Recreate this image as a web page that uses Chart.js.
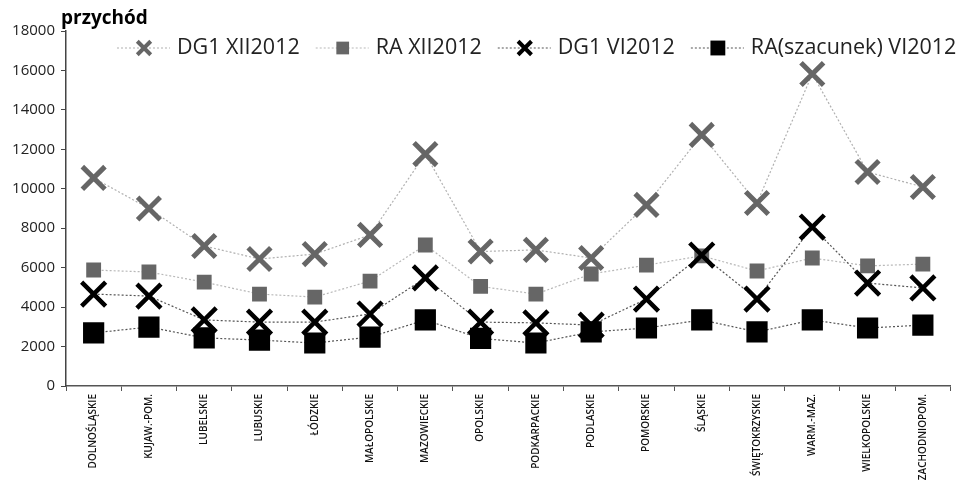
<!DOCTYPE html>
<html>
<head>
<meta charset="utf-8">
<script src="https://cdn.jsdelivr.net/npm/chart.js@4.4.1/dist/chart.umd.min.js"></script>
<style>
  html, body { margin: 0; padding: 0; background: #fff; }
  #wrap { width: 972px; height: 485px; }
</style>
</head>
<body>
<div id="wrap"><canvas id="myChart" width="972" height="485"></canvas></div>
<script>
var regions = [
  "DOLNOŚLĄSKIE", "KUJAW.-POM.", "LUBELSKIE", "LUBUSKIE", "ŁÓDZKIE",
  "MAŁOPOLSKIE", "MAZOWIECKIE", "OPOLSKIE", "PODKARPACKIE", "PODLASKIE",
  "POMORSKIE", "ŚLĄSKIE", "ŚWIĘTOKRZYSKIE", "WARM.-MAZ.", "WIELKOPOLSKIE",
  "ZACHODNIOPOM."
];

var dg1Dec = [10550, 9000, 7100, 6440, 6690, 7660, 11760, 6820, 6900, 6490, 9180, 12730, 9280, 15820, 10850, 10090];
var raDec = [5880, 5780, 5270, 4660, 4510, 5320, 7150, 5050, 4660, 5680, 6130, 6600, 5830, 6490, 6090, 6180];
var dg1Jun = [4660, 4560, 3350, 3240, 3240, 3650, 5480, 3240, 3200, 3090, 4410, 6640, 4410, 8060, 5220, 4970];
var raJun = [2690, 2990, 2440, 2330, 2180, 2480, 3350, 2410, 2180, 2740, 2940, 3350, 2740, 3350, 2940, 3090];

var yTicks = [0, 2000, 4000, 6000, 8000, 10000, 12000, 14000, 16000, 18000];

var GREY = "#666666";
var BLACK = "#000000";

var series = [
  { label: "DG1 XII2012", data: dg1Dec, style: "crossRot", color: GREY, line: "#b0b0b0", r: 16, bw: 5, order: 4, lr: 9.5, lbw: 4 },
  { label: "RA XII2012", data: raDec, style: "rect", color: GREY, line: "#b8b8b8", r: 10.5, bw: 0, order: 3, lr: 9, lbw: 0 },
  { label: "DG1 VI2012", data: dg1Jun, style: "crossRot", color: BLACK, line: "#555555", r: 17, bw: 4.5, order: 2, lr: 9.5, lbw: 4 },
  { label: "RA(szacunek) VI2012", data: raJun, style: "rect", color: BLACK, line: "#555555", r: 15, bw: 0, order: 1, lr: 10.5, lbw: 0 }
];

var datasets = series.map(function (s) {
  return {
    label: s.label,
    data: s.data,
    order: s.order,
    borderColor: s.line,
    borderWidth: 1.2,
    borderDash: [2, 2],
    pointStyle: s.style,
    pointRadius: s.r,
    pointBorderWidth: s.bw,
    pointBorderColor: s.color,
    pointBackgroundColor: s.color,
    tension: 0,
    fill: false
  };
});

// legend + title drawn on top
var topPlugin = {
  id: "topLegend",
  afterDraw: function (chart) {
    var ctx = chart.ctx;
    ctx.save();
    ctx.fillStyle = "#000";
    ctx.font = "bold 19px 'Open Sans'";
    ctx.textBaseline = "alphabetic";
    ctx.textAlign = "left";
    ctx.fillText("przychód", 61, 24);

    var x = 117;
    var y = 48;
    ctx.font = "21.5px 'Open Sans'";
    ctx.textBaseline = "middle";
    series.forEach(function (s) {
      ctx.save();
      ctx.strokeStyle = s.line;
      ctx.lineWidth = 1.2;
      ctx.setLineDash([2, 2]);
      ctx.beginPath();
      ctx.moveTo(x, y);
      ctx.lineTo(x + 53, y);
      ctx.stroke();
      ctx.restore();
      ctx.save();
      ctx.fillStyle = s.color;
      ctx.strokeStyle = s.color;
      ctx.lineWidth = s.lbw;
      ctx.beginPath();
      if (s.style === "rect") {
        var h = s.lr * Math.SQRT1_2;
        ctx.fillRect(x + 27 - h, y - h, 2 * h, 2 * h);
      } else {
        var d = s.lr * Math.SQRT1_2;
        ctx.moveTo(x + 27 - d, y - d);
        ctx.lineTo(x + 27 + d, y + d);
        ctx.moveTo(x + 27 - d, y + d);
        ctx.lineTo(x + 27 + d, y - d);
        ctx.stroke();
      }
      ctx.restore();
      ctx.fillStyle = "#222";
      ctx.fillText(s.label, x + 60, y);
      x += 60 + ctx.measureText(s.label).width + 16;
    });
    ctx.restore();
  }
};

new Chart(document.getElementById("myChart"), {
  type: "line",
  data: { labels: regions, datasets: datasets },
  plugins: [topPlugin],
  options: {
    responsive: false,
    animation: false,
    layout: { padding: { top: 31, right: 17, left: 0, bottom: 0 } },
    plugins: {
      legend: { display: false },
      tooltip: { enabled: false }
    },
    scales: {
      x: {
        offset: true,
        afterFit: function (scale) { scale.height = 99; },
        grid: {
          offset: true,
          drawOnChartArea: false,
          drawTicks: true,
          tickLength: 5,
          color: "#555"
        },
        border: { display: true, color: "#555", width: 1.5 },
        ticks: {
          autoSkip: false,
          maxRotation: 90,
          minRotation: 90,
          padding: 3,
          color: "#111",
          font: { family: "'Open Sans'", size: 10, weight: "600" }
        }
      },
      y: {
        min: 0,
        max: 18000,
        afterFit: function (scale) { scale.width = 66; },
        afterBuildTicks: function (scale) {
          scale.ticks = yTicks.map(function (v) { return { value: v }; });
        },
        grid: {
          drawOnChartArea: false,
          drawTicks: true,
          tickLength: 5,
          color: "#444"
        },
        border: { display: true, color: "#444", width: 1.5 },
        ticks: {
          padding: 6,
          color: "#222",
          font: { family: "'Open Sans'", size: 15 },
          callback: function (v) { return String(v); }
        }
      }
    }
  }
});
</script>
</body>
</html>
